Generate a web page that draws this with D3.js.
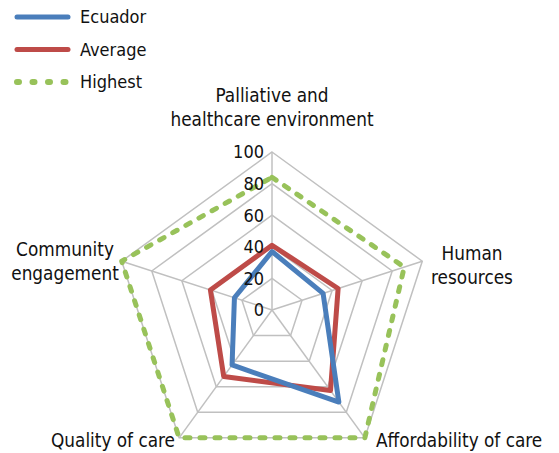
<!DOCTYPE html>
<html>
<head>
<meta charset="utf-8">
<script src="https://cdn.jsdelivr.net/npm/d3@7"></script>
<style>
  body { margin: 0; background: #fff; }
  text { font-family: "DejaVu Sans Condensed", "DejaVu Sans", sans-serif; fill: #111; }
</style>
</head>
<body>
<div id="chart"></div>
<script>
// ************** data *****************
var axesLabels = [
  ["Palliative and", "healthcare environment"],
  ["Human", "resources"],
  ["Affordability of care"],
  ["Quality of care"],
  ["Community", "engagement"]
];
var ecuador = [37, 34, 72, 43, 25];
var average = [41, 44, 63, 52, 41];
var highest = [84, 88, 100, 100, 100];
var tickValues = [0, 20, 40, 60, 80, 100];

var seriesNames = ["Ecuador", "Average", "Highest"];
var seriesColors = ["#4a7ebb", "#be4b48", "#98c25a"];

var width = 559, height = 453;
var cx = 272, cy = 310, radius = 158;

var svg = d3.select("#chart").append("svg")
  .attr("width", width)
  .attr("height", height);

var r = d3.scaleLinear().domain([0, 100]).range([0, radius]);
var angle = d3.scaleLinear().domain([0, axesLabels.length]).range([0, 2 * Math.PI]);

function pt(i, v) {
  var a = angle(i) - Math.PI / 2;
  return [cx + r(v) * Math.cos(a), cy + r(v) * Math.sin(a)];
}

var line = d3.line();

//grid
var g = svg.append("g");
tickValues.slice(1).forEach(function(t) {
  var pts = axesLabels.map(function(d, i) { return pt(i, t); });
  g.append("path")
    .attr("d", line(pts) + "Z")
    .attr("fill", "none")
    .attr("stroke", "#c0c0c0")
    .attr("stroke-width", 1.5);
});
axesLabels.forEach(function(d, i) {
  var p = pt(i, 100);
  g.append("line")
    .attr("x1", cx).attr("y1", cy)
    .attr("x2", p[0]).attr("y2", p[1])
    .attr("stroke", "#c0c0c0")
    .attr("stroke-width", 1.5);
});

//series
var allSeries = [ecuador, average, highest];
[2, 1, 0].forEach(function(s) {
  var pts = allSeries[s].map(function(v, i) { return pt(i, v); });
  var path = svg.append("path")
    .attr("d", line(pts) + "Z")
    .attr("fill", "none")
    .attr("stroke", seriesColors[s])
    .attr("stroke-width", 5)
    .attr("stroke-linejoin", "round");
  if (s == 2) path.attr("stroke-dasharray", "5,10").attr("stroke-linecap", "round");
});

//tick labels
svg.selectAll("text.tick")
  .data(tickValues)
  .enter()
  .append("text")
  .attr("class", "tick")
  .attr("x", cx - 8)
  .attr("y", function(d) { return cy - r(d); })
  .attr("dy", "0.35em")
  .attr("text-anchor", "end")
  .attr("font-size", "18px")
  .text(function(d) { return d; });

//axis labels
var labelPos = [
  {x: 272, y: 102, anchor: "middle"},
  {x: 472, y: 260, anchor: "middle"},
  {x: 376, y: 447, anchor: "start"},
  {x: 175, y: 447, anchor: "end"},
  {x: 65, y: 256, anchor: "middle"}
];
axesLabels.forEach(function(lines, i) {
  var t = svg.append("text")
    .attr("x", labelPos[i].x)
    .attr("y", labelPos[i].y)
    .attr("text-anchor", labelPos[i].anchor)
    .attr("font-size", "18.8px");
  lines.forEach(function(l, j) {
    t.append("tspan")
      .attr("x", labelPos[i].x)
      .attr("dy", j == 0 ? 0 : 24)
      .text(l);
  });
});

//legend
var legend = svg.append("g");
seriesNames.forEach(function(name, i) {
  var y = 17 + i * 32.5;
  var l = legend.append("line")
    .attr("x1", 17).attr("x2", 68)
    .attr("y1", y).attr("y2", y)
    .attr("stroke", seriesColors[i])
    .attr("stroke-width", 5)
    .attr("stroke-linecap", "round");
  if (i == 2) l.attr("stroke-dasharray", "2,13.5").attr("stroke-width", 6);
  legend.append("text")
    .attr("x", 80)
    .attr("y", y)
    .attr("dy", "0.35em")
    .attr("font-size", "18px")
    .text(name);
});
</script>
</body>
</html>
